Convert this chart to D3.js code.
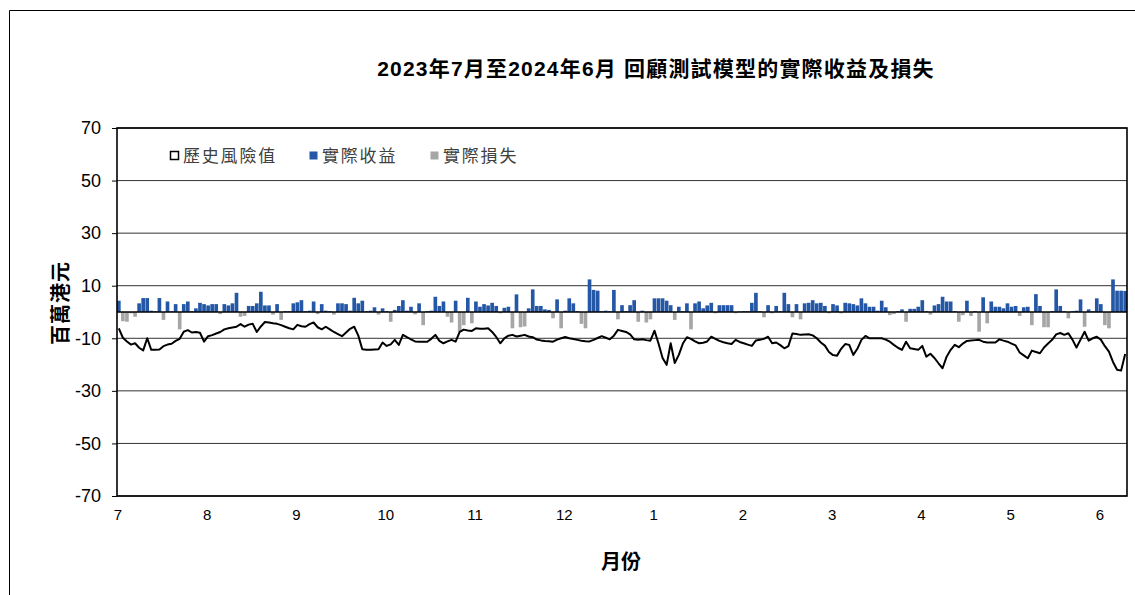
<!DOCTYPE html>
<html>
<head>
<meta charset="utf-8">
<script src="https://cdn.jsdelivr.net/npm/d3@7"></script>
<style>
  body { margin: 0; background: #fff; }
  svg { display: block; }
</style>
</head>
<body>
<svg id="chart" width="1135" height="595"></svg>
<script>
// daily actual profit / loss (HK$ million), Jul 2023 - Jun 2024
var pnl = [
  4.3, -3.5, -3.7, -0.5, -1.8, 3.3, 5.3, 5.3, 0.5, 0.3,
  5.3, -3.0, 4.0, 0.3, 3.0, -6.6, 3.0, 4.0, 0.3, 1.4,
  3.5, 3.0, 2.5, 3.0, 3.0, -0.8, 3.0, 2.5, 3.3, 7.3,
  -1.8, -1.5, 2.3, 2.3, 3.3, 7.7, 2.5, 2.5, -1.0, 3.0,
  -3.0, 0.3, 0.3, 3.3, 3.7, 4.5, 0.3, 0.5, 4.0, -0.8,
  3.0, 0.5, 0.3, -1.0, 3.3, 3.3, 3.0, 0.5, 5.4, 3.3,
  4.3, 0.3, 0.5, 1.8, -1.0, 1.4, 0.3, -3.7, 0.8, 2.3,
  4.5, 0.5, 2.0, -0.9, 3.3, -5.0, 0.3, 0.5, 5.8, 2.3,
  4.0, -1.8, -4.0, 4.3, -7.5, -5.0, 5.4, -4.3, 4.0, 2.0,
  3.0, 2.5, 3.5, 2.3, -0.5, 1.6, 2.0, -6.2, 6.7, -5.8,
  -5.5, 1.4, 8.6, 2.3, 2.3, 1.0, 0.8, -2.4, 4.8, -6.2,
  0.5, 5.2, 3.3, 0.3, -4.5, -6.2, 12.4, 8.4, 8.1, 0.3,
  0.5, 0.3, 8.4, -2.8, 2.6, 0.3, 2.6, 4.5, -3.7, 0.5,
  -4.0, -2.8, 5.2, 5.2, 5.2, 4.3, 2.6, -3.0, 2.0, 0.3,
  3.3, -6.6, 3.3, 4.0, 1.4, 2.5, 3.5, -0.5, 2.6, 2.6,
  2.6, 2.6, -0.5, 0.2, 0.3, 0.3, 3.5, 7.3, 0.3, -2.0,
  2.6, -0.5, 2.3, 0.3, 7.3, 3.0, -2.0, 3.0, -2.8, 3.3,
  3.5, 4.5, 3.3, 3.5, 2.3, -0.5, 3.0, 2.5, -0.5, 3.5,
  3.3, 3.0, 2.5, 5.2, 3.3, 2.0, 2.0, 0.5, 4.3, 1.8,
  -1.2, -0.8, 0.3, 1.0, -3.7, 1.2, 1.2, 2.0, 4.5, 0.3,
  -1.0, 2.5, 3.0, 5.8, 4.0, 4.0, 0.3, -3.7, -1.2, 4.3,
  -1.5, 0.3, -7.5, 5.6, -4.3, 4.0, 2.0, 2.0, 1.4, 3.3,
  2.0, 2.3, -1.5, 1.8, 2.0, -5.0, 6.8, 2.3, -5.8, -5.8,
  0.3, 8.6, 2.3, 0.3, -2.4, 0.3, 0.5, 4.8, -5.6, 1.0,
  0.3, 5.2, 3.0, -5.0, -6.2, 12.4, 8.1, 8.1, 8.0
];

// historical VaR (HK$ million)
var histVaR = [
  -6.2, -9.8, -11.2, -12.4, -11.9, -13.6, -14.6, -10.0, -14.4, -14.4,
  -14.3, -13.0, -12.4, -12.1, -11.0, -10.2, -7.5, -6.9, -7.8, -7.6,
  -7.9, -11.3, -9.2, -8.8, -8.2, -7.6, -6.6, -6.2, -5.9, -5.6,
  -4.6, -5.6, -4.8, -4.5, -7.6, -5.5, -3.8, -4.0, -4.3, -4.5,
  -5.0, -5.6, -6.2, -6.6, -4.9, -5.4, -5.6, -4.6, -4.0, -5.8,
  -6.6, -5.6, -6.6, -7.6, -8.4, -9.2, -7.8, -6.4, -5.6, -8.9,
  -14.2, -14.4, -14.4, -14.3, -14.2, -11.6, -12.9, -12.3, -10.6, -12.5,
  -8.7, -9.6, -10.4, -11.2, -11.3, -11.3, -11.3, -10.2, -8.7, -11.0,
  -11.9, -11.2, -10.6, -11.3, -7.6, -6.7, -7.0, -7.2, -6.2, -6.4,
  -6.4, -6.2, -7.6, -9.5, -11.9, -10.0, -9.0, -8.7, -9.3, -9.0,
  -8.7, -9.3, -9.6, -10.5, -10.8, -11.0, -11.1, -11.3, -10.5, -10.0,
  -9.5, -10.0, -10.3, -10.6, -10.9, -11.1, -11.2, -10.6, -9.9, -9.2,
  -9.8, -10.4, -9.0, -6.8, -7.2, -7.6, -8.5, -10.4, -10.6, -10.4,
  -10.7, -10.9, -7.1, -12.0, -17.5, -20.1, -11.9, -19.4, -16.3, -12.0,
  -9.6, -10.2, -11.2, -11.9, -11.7, -11.2, -9.4, -10.2, -11.0, -11.5,
  -11.9, -12.2, -10.6, -11.4, -11.9, -12.4, -12.9, -10.8, -10.6, -10.2,
  -9.4, -11.9, -11.6, -12.6, -13.8, -13.0, -8.2, -8.4, -8.7, -8.6,
  -8.5, -8.9, -10.0, -11.6, -12.8, -15.2, -16.4, -16.6, -14.0, -12.2,
  -12.5, -16.3, -14.0, -10.6, -9.1, -10.0, -10.0, -10.0, -10.0, -10.5,
  -11.3, -12.5, -13.6, -14.4, -11.3, -13.8, -14.1, -14.4, -12.9, -17.0,
  -15.9, -17.5, -19.5, -21.4, -17.0, -14.4, -12.5, -13.4, -12.0, -11.0,
  -10.8, -10.7, -10.6, -11.3, -11.6, -11.6, -11.6, -10.4, -10.9, -11.3,
  -12.0, -12.7, -15.4, -16.5, -17.6, -14.7, -15.2, -15.7, -13.5, -12.0,
  -10.6, -8.5, -8.0, -8.7, -8.1, -10.5, -13.5, -10.5, -7.5, -10.9,
  -10.0, -9.4, -10.5, -13.0, -15.1, -19.0, -22.0, -22.3, -16.0
];

var monthLabels = ["7", "8", "9", "10", "11", "12", "1", "2", "3", "4", "5", "6"];
var yTicks = [-70, -50, -30, -10, 10, 30, 50, 70];
var legendItems = ["歷史風險值", "實際收益", "實際損失"];

var blue = "#2457a6", grey = "#a6a6a6";
var cjk = "'Noto Sans CJK TC', 'Noto Sans CJK SC', sans-serif";
var latin = "'Liberation Sans', Arial, sans-serif";

var svg = d3.select("#chart");
var plotLeft = 117, plotRight = 1127, plotTop = 128, plotBottom = 496;

var x = d3.scaleBand()
  .domain(d3.range(pnl.length))
  .range([plotLeft, plotRight])
  .paddingInner(0.1)
  .paddingOuter(0);

var y = d3.scaleLinear().domain([-70, 70]).range([plotBottom, plotTop]);

// outer frame (only top and left edges visible)
svg.append("path")
  .attr("d", "M9.5,595V10.5H1135")
  .attr("fill", "none")
  .attr("stroke", "#000")
  .attr("stroke-width", 1);

// title
svg.append("text")
  .attr("x", 656).attr("y", 76)
  .attr("text-anchor", "middle")
  .attr("font-family", "'Liberation Sans', " + cjk)
  .attr("font-weight", "bold")
  .attr("font-size", 21)
  .attr("letter-spacing", 1.2)
  .text("2023年7月至2024年6月 回顧測試模型的實際收益及損失");

// gridlines
svg.append("g").selectAll("line")
  .data(yTicks)
  .enter().append("line")
  .attr("x1", plotLeft).attr("x2", plotRight)
  .attr("y1", function(d) { return y(d); })
  .attr("y2", function(d) { return y(d); })
  .attr("stroke", "#333")
  .attr("stroke-width", 1);

// y axis
var yAxis = svg.append("g")
  .attr("transform", "translate(" + plotLeft + ",0)")
  .call(d3.axisLeft(y).tickValues(yTicks).tickSize(5).tickPadding(11)
    .tickFormat(function(d) { return String(d); }));
yAxis.select(".domain").remove();
yAxis.selectAll("text")
  .attr("font-family", latin)
  .attr("font-size", 18)
  .attr("fill", "#000");

svg.append("text")
  .attr("transform", "translate(68,303) rotate(-90)")
  .attr("text-anchor", "middle")
  .attr("font-family", cjk)
  .attr("font-weight", "bold")
  .attr("font-size", 20)
  .attr("letter-spacing", 1)
  .text("百萬港元");

// x axis labels, one every 22 trading days
var xAxis = svg.append("g")
  .attr("transform", "translate(0," + plotBottom + ")")
  .call(d3.axisBottom(x)
    .tickValues(monthLabels.map(function(d, i) { return i * 22; }))
    .tickSize(0).tickPadding(13)
    .tickFormat(function(d) { return monthLabels[d / 22]; }));
xAxis.select(".domain").remove();
xAxis.selectAll(".tick").attr("transform", function(d) { return "translate(" + (x(d) + 1) + ",0)"; });
xAxis.selectAll("text")
  .attr("font-family", "'Liberation Sans Narrow', " + latin)
  .attr("font-size", 15)
  .attr("fill", "#000");

svg.append("text")
  .attr("x", 621).attr("y", 569)
  .attr("text-anchor", "middle")
  .attr("font-family", cjk)
  .attr("font-weight", "bold")
  .attr("font-size", 20)
  .text("月份");

// bars
svg.append("g").selectAll("rect")
  .data(pnl)
  .enter().append("rect")
  .attr("x", function(d, i) { return x(i); })
  .attr("y", function(d) { return y(Math.max(0, d)); })
  .attr("width", x.bandwidth())
  .attr("height", function(d) { return Math.abs(y(d) - y(0)); })
  .attr("fill", function(d) { return d >= 0 ? blue : grey; });

// zero line
svg.append("line")
  .attr("x1", plotLeft).attr("x2", plotRight)
  .attr("y1", y(0)).attr("y2", y(0))
  .attr("stroke", "#000")
  .attr("stroke-width", 1.6);

// historical VaR line
var line = d3.line()
  .x(function(d, i) { return x(i) + x.bandwidth() / 2; })
  .y(function(d) { return y(d); });

svg.append("path")
  .datum(histVaR)
  .attr("d", line)
  .attr("fill", "none")
  .attr("stroke", "#000")
  .attr("stroke-width", 2)
  .attr("stroke-linejoin", "round");

// plot border
svg.append("rect")
  .attr("x", plotLeft).attr("y", plotTop)
  .attr("width", plotRight - plotLeft).attr("height", plotBottom - plotTop)
  .attr("fill", "none")
  .attr("stroke", "#000")
  .attr("stroke-width", 1.6);

// legend
var legendX = [170, 309, 430];
var legend = svg.append("g").selectAll("g")
  .data(legendItems)
  .enter().append("g")
  .attr("transform", function(d, i) { return "translate(" + legendX[i] + ",151)"; });

legend.append("rect")
  .attr("x", 0.5).attr("y", 0.5)
  .attr("width", 8).attr("height", 8)
  .attr("fill", function(d, i) { return i == 0 ? "#fff" : (i == 1 ? blue : grey); })
  .attr("stroke", function(d, i) { return i == 0 ? "#000" : "none"; })
  .attr("stroke-width", 1.5);

legend.append("text")
  .attr("x", 13).attr("y", 11)
  .attr("font-family", cjk)
  .attr("font-size", 17)
  .attr("letter-spacing", 1.8)
  .attr("fill", "#404040")
  .text(function(d) { return d; });
</script>
</body>
</html>
